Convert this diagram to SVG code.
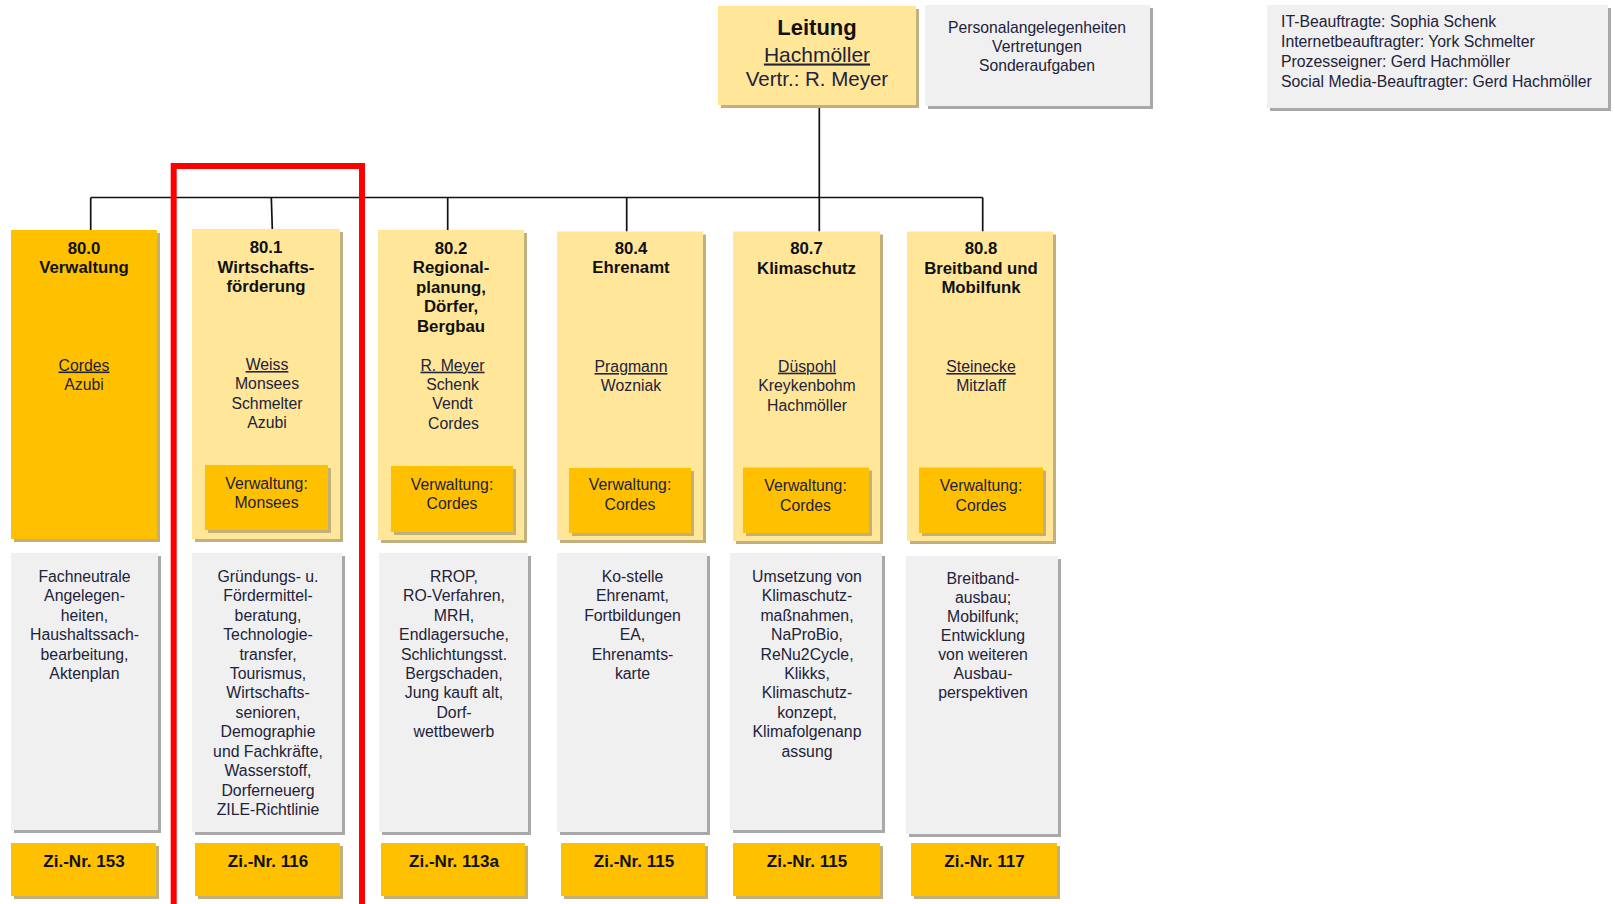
<svg xmlns="http://www.w3.org/2000/svg" width="1615" height="904" viewBox="0 0 1615 904">
<style>
.bg{fill:#ffffff}
.yl{fill:#FFE699}
.og{fill:#FFC000}
.gr{fill:#F0F0F0}
.shy{fill:#C2AF7E}
.shg{fill:#A8A8A8}
.h{font-family:"Liberation Sans",Arial,sans-serif;font-weight:bold;font-size:16.8px;fill:#111111;text-anchor:middle}
.t{font-family:"Liberation Sans",Arial,sans-serif;font-size:15.8px;fill:#22223a;text-anchor:middle}
.z{font-family:"Liberation Sans",Arial,sans-serif;font-weight:bold;font-size:17px;fill:#111111;text-anchor:middle}
.u{text-decoration:underline}
.l{text-anchor:start}
.con{fill:none;stroke:#111111;stroke-width:1.7}
.hl{fill:none;stroke:#FF0000;stroke-width:6}
</style>
<rect class="bg" x="0" y="0" width="1615" height="904"/>

<g id="connectors">
<path class="con" d="M90.7,197.5 H982.7"/>
<path class="con" d="M90.7,197.5 V230"/>
<path class="con" d="M271.3,197.5 L272.3,229"/>
<path class="con" d="M447.7,197.5 V230"/>
<path class="con" d="M626.7,197.5 V231.5"/>
<path class="con" d="M819.3,105 V231.5"/>
<path class="con" d="M982.7,197.5 V231.5"/>
</g>

<g id="leitung">
<rect class="shy" x="721" y="9" width="198" height="99"/>
<rect class="yl" x="718" y="6" width="198" height="99"/>
<text x="817" y="35" style="font-family:'Liberation Sans',Arial,sans-serif;font-weight:bold;font-size:22px;fill:#111;text-anchor:middle">Leitung</text>
<text x="817" y="61.5" class="u" style="font-family:'Liberation Sans',Arial,sans-serif;font-size:21px;fill:#22223a;text-anchor:middle">Hachmöller</text>
<text x="817" y="86" style="font-family:'Liberation Sans',Arial,sans-serif;font-size:20.5px;fill:#22223a;text-anchor:middle">Vertr.: R. Meyer</text>
</g>

<g id="personal">
<rect class="shg" x="928" y="8" width="225" height="101"/>
<rect class="gr" x="925" y="5" width="225" height="101"/>
<text class="t" x="1037" y="32.5" style="font-size:15.7px">Personalangelegenheiten</text>
<text class="t" x="1037" y="51.5" style="font-size:15.7px">Vertretungen</text>
<text class="t" x="1037" y="70.5" style="font-size:15.7px">Sonderaufgaben</text>
</g>

<g id="beauftragte">
<rect class="shg" x="1270" y="8" width="341" height="103"/>
<rect class="gr" x="1267" y="5" width="341" height="103"/>
<text class="t l" x="1281" y="26.5">IT-Beauftragte: Sophia Schenk</text>
<text class="t l" x="1281" y="46.5">Internetbeauftragter: York Schmelter</text>
<text class="t l" x="1281" y="66.5">Prozesseigner: Gerd Hachmöller</text>
<text class="t l" x="1281" y="86.5">Social Media-Beauftragter: Gerd Hachmöller</text>
</g>

<g id="n80_0">
<rect class="shy" x="14" y="233" width="146" height="309"/>
<rect class="og" x="11" y="230" width="146" height="309"/>
<text class="h" x="84" y="253.5">80.0</text>
<text class="h" x="84" y="273">Verwaltung</text>
<text class="t u" x="84" y="370.5">Cordes</text>
<text class="t" x="84" y="389.5">Azubi</text>
</g>
<g id="n80_0_aufgaben">
<rect class="shg" x="14" y="556" width="147" height="277"/>
<rect class="gr" x="11" y="553" width="147" height="277"/>
<text class="t" x="84.5" y="581.7">Fachneutrale<tspan x="84.5" dy="19.45">Angelegen-</tspan><tspan x="84.5" dy="19.45">heiten,</tspan><tspan x="84.5" dy="19.45">Haushaltssach-</tspan><tspan x="84.5" dy="19.45">bearbeitung,</tspan><tspan x="84.5" dy="19.45">Aktenplan</tspan></text>
</g>
<g id="n80_0_zi">
<rect class="shy" x="14" y="846" width="145" height="53"/>
<rect class="og" x="11" y="843" width="145" height="53"/>
<text class="z" x="84" y="866.5">Zi.-Nr. 153</text>
</g>

<g id="n80_1">
<rect class="shy" x="195" y="232" width="148" height="310"/>
<rect class="yl" x="192" y="229" width="148" height="310"/>
<text class="h" x="266" y="253">80.1</text>
<text class="h" x="266" y="273">Wirtschafts-</text>
<text class="h" x="266" y="292">förderung</text>
<text class="t u" x="267" y="370">Weiss</text>
<text class="t" x="267" y="389.4">Monsees</text>
<text class="t" x="267" y="408.8">Schmelter</text>
<text class="t" x="267" y="428.2">Azubi</text>
<rect class="shy" x="208" y="468" width="123" height="65"/>
<rect class="og" x="205" y="465" width="123" height="65"/>
<text class="t" x="266.5" y="488.5">Verwaltung:</text>
<text class="t" x="266.5" y="508">Monsees</text>
</g>
<g id="n80_1_aufgaben">
<rect class="shg" x="195" y="556" width="150" height="279"/>
<rect class="gr" x="192" y="553" width="150" height="279"/>
<text class="t" x="268" y="581.7">Gründungs- u.<tspan x="268" dy="19.45">Fördermittel-</tspan><tspan x="268" dy="19.45">beratung,</tspan><tspan x="268" dy="19.45">Technologie-</tspan><tspan x="268" dy="19.45">transfer,</tspan><tspan x="268" dy="19.45">Tourismus,</tspan><tspan x="268" dy="19.45">Wirtschafts-</tspan><tspan x="268" dy="19.45">senioren,</tspan><tspan x="268" dy="19.45">Demographie</tspan><tspan x="268" dy="19.45">und Fachkräfte,</tspan><tspan x="268" dy="19.45">Wasserstoff,</tspan><tspan x="268" dy="19.45">Dorferneuerg</tspan><tspan x="268" dy="19.45">ZILE-Richtlinie</tspan></text>
</g>
<g id="n80_1_zi">
<rect class="shy" x="198" y="846" width="145" height="53"/>
<rect class="og" x="195" y="843" width="145" height="53"/>
<text class="z" x="268" y="866.5">Zi.-Nr. 116</text>
</g>

<g id="n80_2">
<rect class="shy" x="381" y="233" width="146" height="310"/>
<rect class="yl" x="378" y="230" width="146" height="310"/>
<text class="h" x="451" y="254">80.2</text>
<text class="h" x="451" y="273.4">Regional-</text>
<text class="h" x="451" y="292.8">planung,</text>
<text class="h" x="451" y="312.2">Dörfer,</text>
<text class="h" x="451" y="331.6">Bergbau</text>
<text class="t u" x="452.5" y="370.7">R. Meyer</text>
<text class="t" x="452.5" y="390">Schenk</text>
<text class="t" x="452.5" y="409.4">Vendt</text>
<text class="t" x="453.5" y="428.8">Cordes</text>
<rect class="shy" x="394" y="469" width="122" height="66"/>
<rect class="og" x="391" y="466" width="122" height="66"/>
<text class="t" x="452" y="489.5">Verwaltung:</text>
<text class="t" x="452" y="509">Cordes</text>
</g>
<g id="n80_2_aufgaben">
<rect class="shg" x="382" y="556" width="149" height="279"/>
<rect class="gr" x="379" y="553" width="149" height="279"/>
<text class="t" x="454" y="581.7">RROP,<tspan x="454" dy="19.45">RO-Verfahren,</tspan><tspan x="454" dy="19.45">MRH,</tspan><tspan x="454" dy="19.45">Endlagersuche,</tspan><tspan x="454" dy="19.45">Schlichtungsst.</tspan><tspan x="454" dy="19.45">Bergschaden,</tspan><tspan x="454" dy="19.45">Jung kauft alt,</tspan><tspan x="454" dy="19.45">Dorf-</tspan><tspan x="454" dy="19.45">wettbewerb</tspan></text>
</g>
<g id="n80_2_zi">
<rect class="shy" x="384" y="846" width="144" height="53"/>
<rect class="og" x="381" y="843" width="144" height="53"/>
<text class="z" x="454" y="866.5">Zi.-Nr. 113a</text>
</g>

<g id="n80_4">
<rect class="shy" x="560" y="234.5" width="146" height="308.5"/>
<rect class="yl" x="557" y="231.5" width="146" height="308.5"/>
<text class="h" x="631" y="254">80.4</text>
<text class="h" x="631" y="273.4">Ehrenamt</text>
<text class="t u" x="631" y="372">Pragmann</text>
<text class="t" x="631" y="391">Wozniak</text>
<rect class="shy" x="572" y="471" width="122" height="65"/>
<rect class="og" x="569" y="468" width="122" height="65"/>
<text class="t" x="630" y="490">Verwaltung:</text>
<text class="t" x="630" y="510">Cordes</text>
</g>
<g id="n80_4_aufgaben">
<rect class="shg" x="560" y="556" width="150" height="279"/>
<rect class="gr" x="557" y="553" width="150" height="279"/>
<text class="t" x="632.5" y="581.7">Ko-stelle<tspan x="632.5" dy="19.45">Ehrenamt,</tspan><tspan x="632.5" dy="19.45">Fortbildungen</tspan><tspan x="632.5" dy="19.45">EA,</tspan><tspan x="632.5" dy="19.45">Ehrenamts-</tspan><tspan x="632.5" dy="19.45">karte</tspan></text>
</g>
<g id="n80_4_zi">
<rect class="shy" x="564" y="846" width="144" height="53"/>
<rect class="og" x="561" y="843" width="144" height="53"/>
<text class="z" x="634" y="866.5">Zi.-Nr. 115</text>
</g>

<g id="n80_7">
<rect class="shy" x="736" y="234.5" width="147" height="309.5"/>
<rect class="yl" x="733" y="231.5" width="147" height="309.5"/>
<text class="h" x="806.5" y="254">80.7</text>
<text class="h" x="806.5" y="274">Klimaschutz</text>
<text class="t u" x="807" y="371.7">Düspohl</text>
<text class="t" x="807" y="391.3">Kreykenbohm</text>
<text class="t" x="807" y="410.8">Hachmöller</text>
<rect class="shy" x="746" y="470.5" width="126" height="65.5"/>
<rect class="og" x="743" y="467.5" width="126" height="65.5"/>
<text class="t" x="805.5" y="490.7">Verwaltung:</text>
<text class="t" x="805.5" y="510.5">Cordes</text>
</g>
<g id="n80_7_aufgaben">
<rect class="shg" x="733" y="556" width="152" height="277"/>
<rect class="gr" x="730" y="553" width="152" height="277"/>
<text class="t" x="807" y="581.7">Umsetzung von<tspan x="807" dy="19.45">Klimaschutz-</tspan><tspan x="807" dy="19.45">maßnahmen,</tspan><tspan x="807" dy="19.45">NaProBio,</tspan><tspan x="807" dy="19.45">ReNu2Cycle,</tspan><tspan x="807" dy="19.45">Klikks,</tspan><tspan x="807" dy="19.45">Klimaschutz-</tspan><tspan x="807" dy="19.45">konzept,</tspan><tspan x="807" dy="19.45">Klimafolgenanp</tspan><tspan x="807" dy="19.45">assung</tspan></text>
</g>
<g id="n80_7_zi">
<rect class="shy" x="736" y="846" width="147" height="53"/>
<rect class="og" x="733" y="843" width="147" height="53"/>
<text class="z" x="807" y="866.5">Zi.-Nr. 115</text>
</g>

<g id="n80_8">
<rect class="shy" x="910" y="234.5" width="146" height="309.5"/>
<rect class="yl" x="907" y="231.5" width="146" height="309.5"/>
<text class="h" x="981" y="254">80.8</text>
<text class="h" x="981" y="274">Breitband und</text>
<text class="h" x="981" y="293.3">Mobilfunk</text>
<text class="t u" x="981" y="372">Steinecke</text>
<text class="t" x="981" y="391.3">Mitzlaff</text>
<rect class="shy" x="922" y="470.5" width="124" height="65.5"/>
<rect class="og" x="919" y="467.5" width="124" height="65.5"/>
<text class="t" x="981" y="490.7">Verwaltung:</text>
<text class="t" x="981" y="510.5">Cordes</text>
</g>
<g id="n80_8_aufgaben">
<rect class="shg" x="909" y="559" width="152" height="278"/>
<rect class="gr" x="906" y="556" width="152" height="278"/>
<text class="t" x="983" y="584">Breitband-<tspan x="983" dy="19">ausbau;</tspan><tspan x="983" dy="19">Mobilfunk;</tspan><tspan x="983" dy="19">Entwicklung</tspan><tspan x="983" dy="19">von weiteren</tspan><tspan x="983" dy="19">Ausbau-</tspan><tspan x="983" dy="19">perspektiven</tspan></text>
</g>
<g id="n80_8_zi">
<rect class="shy" x="914" y="846" width="146" height="53"/>
<rect class="og" x="911" y="843" width="146" height="53"/>
<text class="z" x="984.5" y="866.5">Zi.-Nr. 117</text>
</g>

<g id="highlight">
<path class="hl" d="M173.7,910 V166 H362 V910"/>
</g>
</svg>
